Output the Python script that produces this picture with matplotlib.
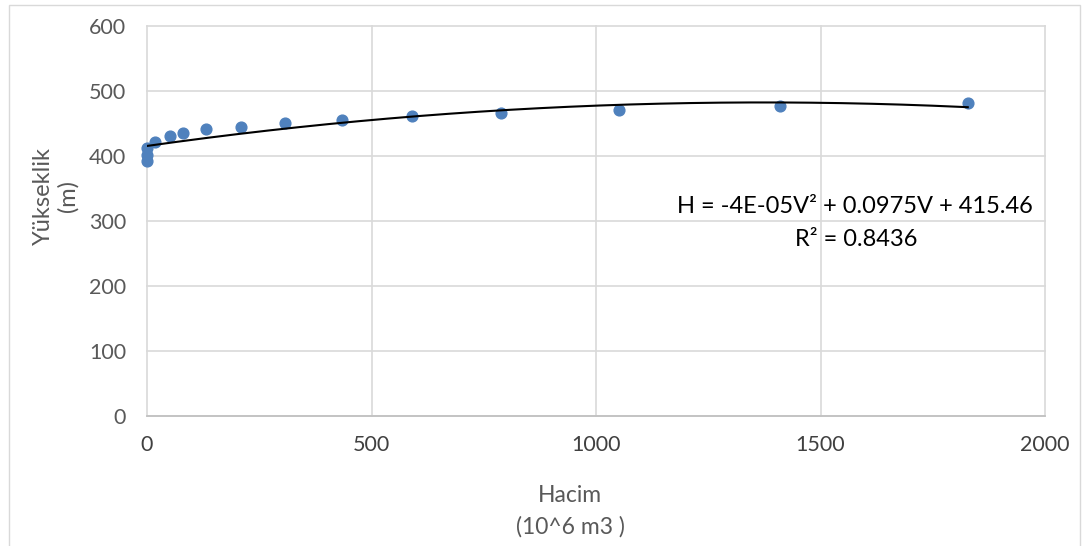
import matplotlib
matplotlib.use("Agg")
import matplotlib.pyplot as plt
import numpy as np
from matplotlib.patches import Rectangle

volume = [0, 0, 1, 18, 51, 80, 131, 209, 307, 434, 590, 788, 1051, 1410, 1828]
height = [392, 402, 413, 421, 431, 436, 441, 445, 451, 456, 462, 466, 471, 477, 481]
trend_coef = [-3.55e-05, 0.0975, 415.46]
x_ticks = [0, 500, 1000, 1500, 2000]
y_ticks = [0, 100, 200, 300, 400, 500, 600]

plt.rcParams['font.family'] = ['Lato', 'DejaVu Sans']

fig = plt.figure(figsize=(10.87, 5.46), dpi=100)
ax = fig.add_axes([147/1087, 1-416/546, 898/1087, 390/546])

ax.set_xlim(0, 2000)
ax.set_ylim(0, 600)
ax.set_xticks(x_ticks)
ax.set_yticks(y_ticks)
ax.grid(True, color='#d9d9d9', linewidth=1.2)
for g in ax.get_xgridlines() + ax.get_ygridlines():
    g.set_clip_on(False)
for s in ax.spines.values():
    s.set_visible(False)
ax.spines['bottom'].set_visible(True)
ax.spines['bottom'].set_color('#bfbfbf')
ax.spines['bottom'].set_linewidth(1.2)
ax.tick_params(length=0, labelsize=15.5, labelcolor='#595959', pad=15)
ax.tick_params(axis='x', labelcolor='#404040', pad=14)
ax.set_axisbelow(True)

ax.scatter(volume, height, s=60, color='#4f81bd', zorder=3, clip_on=False)
xs = np.linspace(0, max(volume), 300)
ax.plot(xs, np.polyval(trend_coef, xs), color='black', linewidth=1.5, zorder=4)

ax.text(1972, 322, 'H = -4E-05V² + 0.0975V + 415.46', ha='right', va='center', fontsize=17, color='black')
ax.text(1717, 272, 'R² = 0.8436', ha='right', va='center', fontsize=17, color='black')

fig.text(570/1087, 1-495/546, 'Hacim', ha='center', va='center', fontsize=16.5, color='#595959')
fig.text(570/1087, 1-527/546, '(10^6 m3 )', ha='center', va='center', fontsize=16.5, color='#595959')
fig.text(56/1087, 1-196/546, 'Yükseklik\n(m)', ha='center', va='center', rotation=90, fontsize=17, color='#595959', linespacing=1.15)

fig.patches.append(Rectangle((9/1087, -0.05), (1080-9)/1087, 1-5/546+0.05, transform=fig.transFigure,
                             fill=False, edgecolor='#d9d9d9', linewidth=1.0))

fig.savefig('out.png', dpi=100)
